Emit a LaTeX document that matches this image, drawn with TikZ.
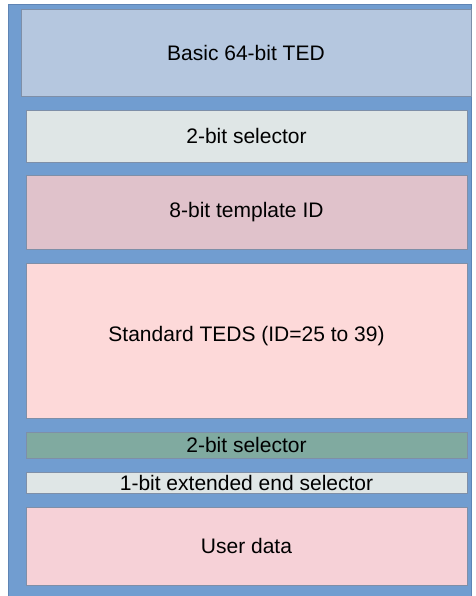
\documentclass[tikz,border=0pt]{standalone}
\usepackage{fontspec}
\setmainfont{Liberation Sans}
\definecolor{frameblue}{HTML}{719DD0}
\definecolor{framedge}{HTML}{5F84B4}
\definecolor{tedblue}{HTML}{B5C7DF}
\definecolor{selgray}{HTML}{DFE6E6}
\definecolor{tplmauve}{HTML}{E0C2CB}
\definecolor{stdpink}{HTML}{FDD9D9}
\definecolor{selgreen}{HTML}{80AAA0}
\definecolor{userpink}{HTML}{F6D1D7}
\definecolor{boxedge}{HTML}{7E8FA8}
\begin{document}
\begin{tikzpicture}[x=1pt,y=-1pt,
  field/.style={draw=boxedge,line width=0.8pt,inner sep=0pt},
  label/.style={inner sep=0pt,font=\fontsize{21}{24}\selectfont}]
\useasboundingbox (0,0) rectangle (475,596);
\fill[white] (0,0) rectangle (475,596);
% outer container
\draw[fill=frameblue,draw=framedge,line width=0.8pt] (8,4) rectangle (471,600);
% stacked fields
\draw[field,fill=tedblue] (21,9) rectangle (471,96) node[label,midway] (ted) {Basic 64-bit TED};
\draw[field,fill=selgray] (26,110) rectangle (467,162) node[label,midway] (sel1) {2-bit selector};
\draw[field,fill=tplmauve] (26,175) rectangle (467,249) node[label,midway] (tpl) {8-bit template ID};
\draw[field,fill=stdpink] (26,263) rectangle (467,418) node[label,midway,yshift=4pt] (std) {Standard TEDS (ID=25 to 39)};
\draw[field,fill=selgreen] (26,432) rectangle (467,458) node[label,midway] (sel2) {2-bit selector};
\draw[field,fill=selgray] (26,472) rectangle (467,493) node[label,midway] (ext) {1-bit extended end selector};
\draw[field,fill=userpink] (26,507) rectangle (467,585) node[label,midway] (user) {User data};
\end{tikzpicture}
\end{document}
